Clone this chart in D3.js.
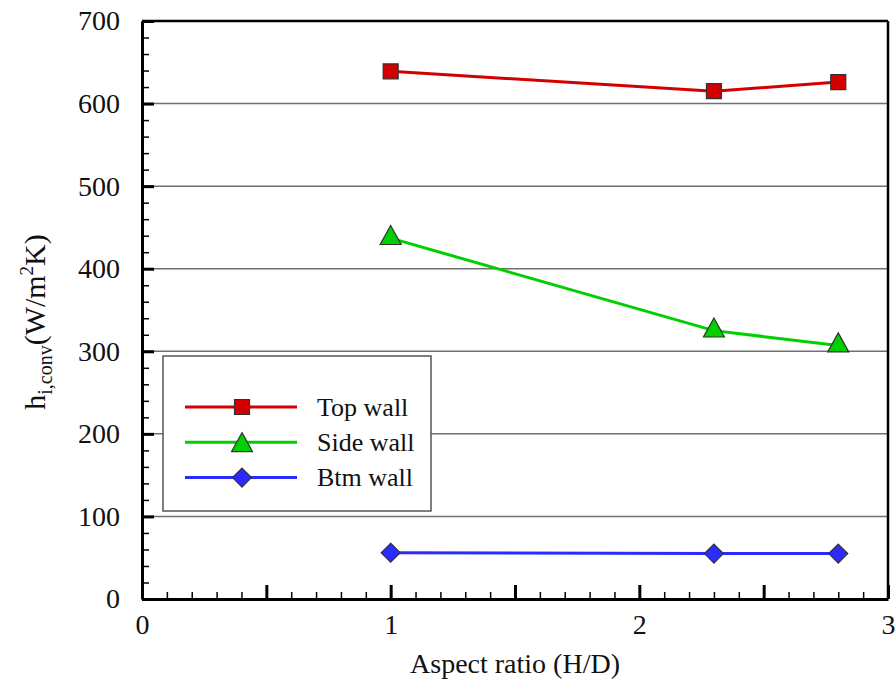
<!DOCTYPE html>
<html>
<head>
<meta charset="utf-8">
<script src="https://cdn.jsdelivr.net/npm/d3@7"></script>
<style>html,body{margin:0;padding:0;background:#fff;}svg{display:block;}</style>
</head>
<body>
<svg id="chart" width="896" height="686"></svg>
<script>
// ---- data ----
const aspectRatios = [1.0, 2.3, 2.8];
const topWall  = [639, 615, 626];
const sideWall = [437, 325, 307];
const btmWall  = [56, 55, 55];
const seriesNames = ["Top wall", "Side wall", "Btm wall"];
const yTickLabels = [0, 100, 200, 300, 400, 500, 600, 700];
const xTickLabels = [0, 1, 2, 3];

const FONT = "Liberation Serif";
const seriesColors = ["#d40000", "#00d000", "#2b2bff"];
const seriesMarkers = ["square", "triangle", "diamond"];
const seriesValues = [topWall, sideWall, btmWall];

const svg = d3.select("#chart");
const L = 142, R = 888, T = 21, B = 599;
const x = d3.scaleLinear().domain([0, 3]).range([L, R]);
const y = d3.scaleLinear().domain([0, 700]).range([B, T]);

function markerPath(type) {
  if (type === "square") { const s = 7.5; return `M${-s},${-s}H${s}V${s}H${-s}Z`; }
  if (type === "triangle") { const h = 19, w = 21; return `M0,${-2*h/3}L${w/2},${h/3}L${-w/2},${h/3}Z`; }
  const d = 9.5; return `M0,${-d}L${d},0L0,${d}L${-d},0Z`;
}

// grid lines
svg.append("g").selectAll("line").data(yTickLabels.filter(v => v > 0 && v < 700)).join("line")
  .attr("x1", L).attr("x2", R).attr("y1", d => y(d)).attr("y2", d => y(d))
  .attr("stroke", "#707070").attr("stroke-width", 1.5);

// legend box
const lg = svg.append("g");
lg.append("rect").attr("x", 163).attr("y", 356).attr("width", 268).attr("height", 155)
  .attr("fill", "#fff").attr("stroke", "#555").attr("stroke-width", 1.5);
seriesNames.forEach((name, i) => {
  const ry = 407 + i * 35.3;
  lg.append("line").attr("x1", 185).attr("x2", 297).attr("y1", ry).attr("y2", ry)
    .attr("stroke", seriesColors[i]).attr("stroke-width", 3);
  lg.append("path").attr("d", markerPath(seriesMarkers[i]))
    .attr("transform", `translate(242,${ry + (seriesMarkers[i]==="triangle"?3:0)})`)
    .attr("fill", seriesColors[i]).attr("stroke", "#333").attr("stroke-width", 1.2);
  lg.append("text").attr("x", 317).attr("y", ry + 8.5).attr("font-family", FONT)
    .attr("font-size", 26).attr("fill", "#111").text(name);
});

// data lines and markers
const line = d3.line().x((d, i) => x(aspectRatios[i])).y(d => y(d));
seriesValues.forEach((vals, i) => {
  svg.append("path").datum(vals).attr("d", line).attr("fill", "none")
    .attr("stroke", seriesColors[i]).attr("stroke-width", 3);
  svg.append("g").selectAll("path").data(vals).join("path")
    .attr("d", markerPath(seriesMarkers[i]))
    .attr("transform", (d, j) => `translate(${x(aspectRatios[j])},${y(d)})`)
    .attr("fill", seriesColors[i]).attr("stroke", "#333").attr("stroke-width", 1.2);
});

// frame (top / right)
svg.append("line").attr("x1", L).attr("x2", R).attr("y1", T).attr("y2", T).attr("stroke", "#000").attr("stroke-width", 2.5);
svg.append("line").attr("x1", R).attr("x2", R).attr("y1", T).attr("y2", B).attr("stroke", "#000").attr("stroke-width", 2.5);

// y axis minor ticks
svg.append("g").attr("transform", `translate(${L},0)`)
  .call(d3.axisLeft(y).tickValues(d3.range(0, 701, 20)).tickSizeInner(-7).tickSizeOuter(0).tickFormat(""))
  .call(g => { g.select(".domain").remove(); g.selectAll("line").attr("stroke-width", 1.5); });
// y axis major
svg.append("g").attr("transform", `translate(${L},0)`)
  .call(d3.axisLeft(y).tickValues(yTickLabels).tickSizeInner(-12).tickSizeOuter(0).tickPadding(22).tickFormat(d3.format("d")))
  .call(g => {
    g.attr("font-family", FONT);
    g.select(".domain").attr("stroke-width", 3);
    g.selectAll("line").attr("stroke-width", 3);
    g.selectAll("text").attr("font-family", FONT).attr("font-size", 28).attr("fill", "#111");
  });

// x axis minor ticks
svg.append("g").attr("transform", `translate(0,${B})`)
  .call(d3.axisBottom(x).tickValues(d3.range(0, 31).map(v => v / 10)).tickSizeInner(-7).tickSizeOuter(0).tickFormat(""))
  .call(g => { g.select(".domain").remove(); g.selectAll("line").attr("stroke-width", 1.5); });
// x axis major ticks (every 0.5)
svg.append("g").attr("transform", `translate(0,${B})`)
  .call(d3.axisBottom(x).tickValues(d3.range(0, 7).map(v => v / 2)).tickSizeInner(-14).tickSizeOuter(0).tickFormat(""))
  .call(g => { g.select(".domain").attr("stroke-width", 3); g.selectAll("line").attr("stroke-width", 3); });
// x labels
svg.append("g").attr("transform", `translate(0,${B})`)
  .call(d3.axisBottom(x).tickValues(xTickLabels).tickSize(0).tickPadding(15).tickFormat(d3.format("d")))
  .call(g => {
    g.attr("font-family", FONT);
    g.select(".domain").remove();
    g.selectAll("text").attr("font-family", FONT).attr("font-size", 28).attr("fill", "#111");
  });

// axis titles
svg.append("text").attr("x", (L + R) / 2).attr("y", 673).attr("text-anchor", "middle")
  .attr("font-family", FONT).attr("font-size", 28).attr("fill", "#111").text("Aspect ratio (H/D)");

const yt = svg.append("text").attr("transform", "translate(45,322) rotate(-90)")
  .attr("text-anchor", "middle").attr("font-family", FONT).attr("font-size", 30).attr("fill", "#111");
yt.append("tspan").text("h");
yt.append("tspan").attr("font-size", 20).attr("dy", 7).text("i,conv");
yt.append("tspan").attr("dy", -7).text("(W/m");
yt.append("tspan").attr("font-size", 19).attr("dy", -12).text("2");
yt.append("tspan").attr("dy", 12).text("K)");
</script>
</body>
</html>
